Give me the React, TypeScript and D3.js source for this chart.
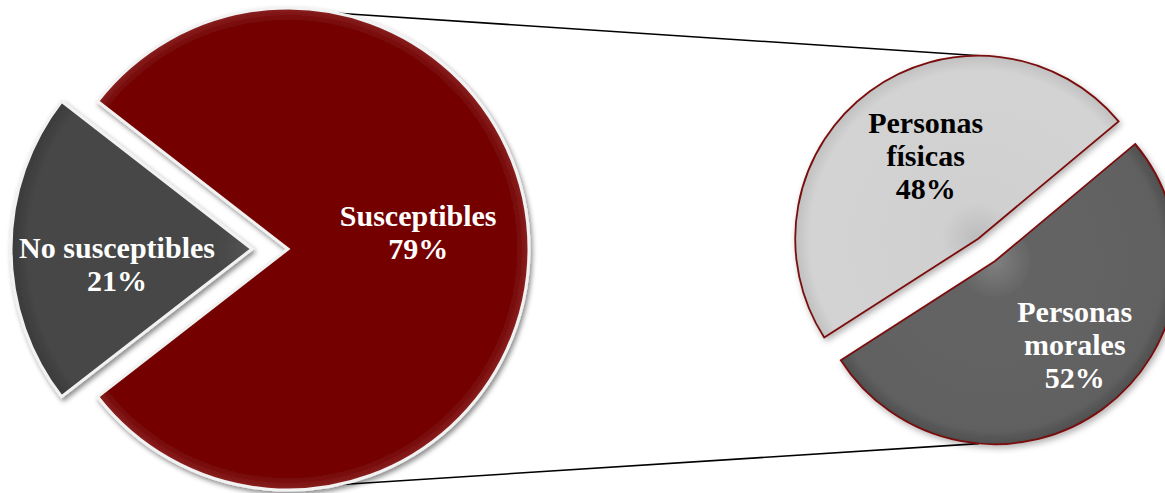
import React from "react";
import * as d3 from "d3";

// ---- data ----
const mainCategories = ["Susceptibles", "No susceptibles"];
const mainValues = [79, 21];
const mainLabelLines = [["Susceptibles"], ["No susceptibles"]];
const subCategories = ["Personas físicas", "Personas morales"];
const subValues = [48, 52];
const subLabelLines = [["Personas", "físicas"], ["Personas", "morales"]];

// ---- layout / style ----
const W = 1165;
const H = 493;
const main = { cx: 288, cy: 249, r: 241, explode: [0, 36] };
const sub = { cx: 986.5, cy: 250, r: 183, explode: [14, 14] };
const mainFills = ["url(#gRed)", "url(#gDark)"];
const subFills = ["url(#gLight)", "url(#gMid)"];
const mainText = ["#ffffff", "#ffffff"];
const subText = ["#000000", "#ffffff"];
const mainLabelFrac = [0.54, 0.56];
const mainLabelShift = [[0, -7], [0, 25]];
const subLabelFrac = [0.54, 0.6];
const subLabelShift = [[6, 7], [15, 5]];
const lineH = 33;

function polar(cx: number, cy: number, r: number, a: number): [number, number] {
  return [cx + r * Math.sin(a), cy - r * Math.cos(a)];
}

export default function App() {
  const total = d3.sum(mainValues);
  const otherShare = mainValues[1] / total;
  // place "No susceptibles" slice centred on the left (-90deg)
  const mainStart = -Math.PI / 2 + otherShare * Math.PI;
  const mainPie = d3
    .pie<number>()
    .sort(null)
    .value((d) => d)
    .startAngle(mainStart)
    .endAngle(mainStart + 2 * Math.PI);
  const mainArcs = mainPie(mainValues);

  const subTotal = d3.sum(subValues);
  const firstShare = subValues[0] / subTotal;
  const subMid = (-36.3 * Math.PI) / 180;
  const subStart = subMid - firstShare * Math.PI;
  const subPie = d3
    .pie<number>()
    .sort(null)
    .value((d) => d)
    .startAngle(subStart)
    .endAngle(subStart + 2 * Math.PI);
  const subArcs = subPie(subValues);

  const mainArc = d3.arc<d3.PieArcDatum<number>>().innerRadius(0).outerRadius(main.r);
  const subArc = d3.arc<d3.PieArcDatum<number>>().innerRadius(0).outerRadius(sub.r);

  const fmt = d3.format(".0%");

  const mainCenters = mainArcs.map((a, i) => {
    const mid = (a.startAngle + a.endAngle) / 2;
    return polar(main.cx, main.cy, main.explode[i], mid);
  });
  const subCenters = subArcs.map((a, i) => {
    const mid = (a.startAngle + a.endAngle) / 2;
    return polar(sub.cx, sub.cy, sub.explode[i], mid);
  });

  // connector lines
  const lt = polar(main.cx, main.cy, main.r, (12 * Math.PI) / 180);
  const lb = polar(main.cx, main.cy, main.r, (168 * Math.PI) / 180);
  const rt = polar(subCenters[0][0], subCenters[0][1], sub.r, (0.5 * Math.PI) / 180);
  const rb = polar(subCenters[1][0], subCenters[1][1], sub.r, (185 * Math.PI) / 180);

  const font = "'Liberation Serif', 'Times New Roman', serif";

  const renderLabel = (
    lines: string[],
    pct: string,
    x: number,
    yMean: number,
    color: string,
    key: string
  ) => {
    const all = [...lines, pct];
    const n = all.length;
    return (
      <text
        key={key}
        textAnchor="middle"
        fontFamily={font}
        fontWeight="bold"
        fontSize={30}
        fill={color}
      >
        {all.map((t, j) => (
          <tspan key={j} x={x} y={yMean + (j - (n - 1) / 2) * lineH}>
            {t}
          </tspan>
        ))}
      </text>
    );
  };

  return (
    <svg
      width={W}
      height={H}
      style={{ position: "absolute", left: 0, top: 0, background: "#ffffff" }}
    >
      <defs>
        <filter id="shadow" x="-20%" y="-20%" width="140%" height="140%">
          <feDropShadow dx="2" dy="3" stdDeviation="2.5" floodColor="#000" floodOpacity="0.45" />
        </filter>
        <filter id="shadow2" x="-20%" y="-20%" width="140%" height="140%">
          <feDropShadow dx="2" dy="3" stdDeviation="3" floodColor="#000" floodOpacity="0.3" />
        </filter>
        <radialGradient id="gRed" gradientUnits="userSpaceOnUse" cx={0} cy={0} r={main.r}>
          <stop offset="0%" stopColor="#750606" />
          <stop offset="95%" stopColor="#750606" />
          <stop offset="100%" stopColor="#8a2222" />
        </radialGradient>
        <radialGradient id="gDark" gradientUnits="userSpaceOnUse" cx={0} cy={0} r={main.r}>
          <stop offset="0%" stopColor="#555555" />
          <stop offset="15%" stopColor="#474747" />
          <stop offset="93%" stopColor="#464646" />
          <stop offset="100%" stopColor="#3a3a3a" />
        </radialGradient>
        <radialGradient id="gLight" gradientUnits="userSpaceOnUse" cx={0} cy={0} r={sub.r}>
          <stop offset="0%" stopColor="#bcbcbc" />
          <stop offset="20%" stopColor="#d0d0d0" />
          <stop offset="92%" stopColor="#d3d3d3" />
          <stop offset="100%" stopColor="#c0c0c0" />
        </radialGradient>
        <radialGradient id="gMid" gradientUnits="userSpaceOnUse" cx={0} cy={0} r={sub.r}>
          <stop offset="0%" stopColor="#808080" />
          <stop offset="20%" stopColor="#646464" />
          <stop offset="92%" stopColor="#616161" />
          <stop offset="100%" stopColor="#4e4e4e" />
        </radialGradient>
      </defs>

      <line x1={lt[0]} y1={lt[1]} x2={rt[0]} y2={rt[1]} stroke="#000" strokeWidth={1.6} />
      <line x1={lb[0]} y1={lb[1]} x2={rb[0]} y2={rb[1]} stroke="#000" strokeWidth={1.6} />

      {mainArcs.map((a, i) => (
        <g key={mainCategories[i]} transform={`translate(${mainCenters[i][0]},${mainCenters[i][1]})`}>
          <path
            d={mainArc(a) || ""}
            fill={mainFills[i]}
            stroke="#f2f2f2"
            strokeWidth={3}
            strokeLinejoin="miter"
            filter="url(#shadow)"
          />
        </g>
      ))}

      {subArcs.map((a, i) => (
        <g key={subCategories[i]} transform={`translate(${subCenters[i][0]},${subCenters[i][1]})`}>
          <path
            d={subArc(a) || ""}
            fill={subFills[i]}
            stroke="#7a0c0c"
            strokeWidth={1.8}
            filter="url(#shadow2)"
          />
        </g>
      ))}

      {mainArcs.map((a, i) => {
        const mid = (a.startAngle + a.endAngle) / 2;
        const p = polar(mainCenters[i][0], mainCenters[i][1], main.r * mainLabelFrac[i], mid);
        return renderLabel(
          mainLabelLines[i],
          fmt(a.value / total),
          p[0] + mainLabelShift[i][0],
          p[1] + mainLabelShift[i][1],
          mainText[i],
          "ml" + i
        );
      })}

      {subArcs.map((a, i) => {
        const mid = (a.startAngle + a.endAngle) / 2;
        const p = polar(subCenters[i][0], subCenters[i][1], sub.r * subLabelFrac[i], mid);
        return renderLabel(
          subLabelLines[i],
          fmt(a.value / subTotal),
          p[0] + subLabelShift[i][0],
          p[1] + subLabelShift[i][1],
          subText[i],
          "sl" + i
        );
      })}
    </svg>
  );
}
